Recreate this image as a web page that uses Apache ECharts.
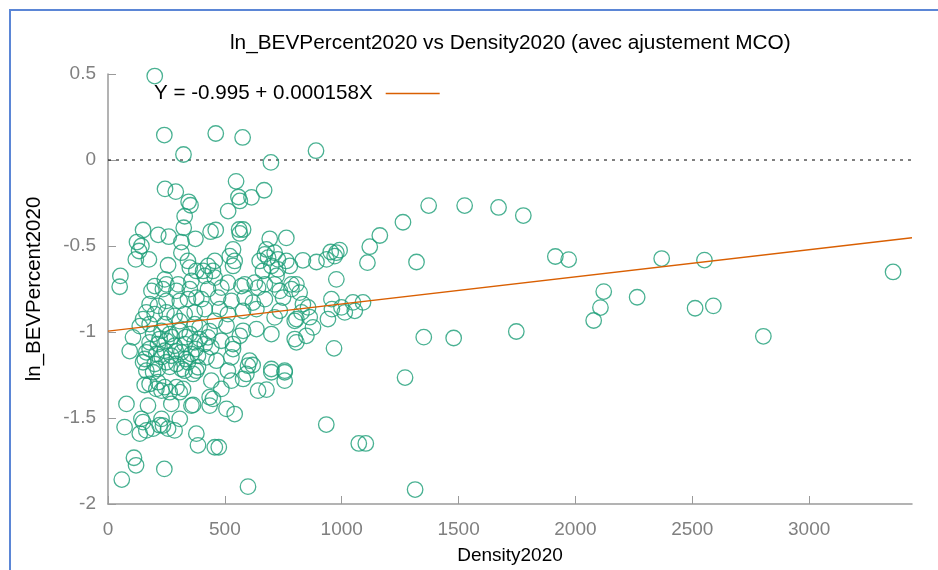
<!DOCTYPE html>
<html><head><meta charset="utf-8">
<script src="https://cdn.jsdelivr.net/npm/echarts@6/dist/echarts.min.js"></script>
<style>html,body{margin:0;padding:0;background:#fff}#c{width:938px;height:570px}</style>
</head><body><div id="c"></div>
<script>
const chartTitle = 'ln_BEVPercent2020 vs Density2020 (avec ajustement MCO)';
const xName = 'Density2020';
const yName = 'ln_BEVPercent2020';
const fitLabel = 'Y = -0.995 + 0.000158X';

const density = [
200,241,461,576,323,697,890,548,244,290,668,558,564,614,345,353,514,328,324,150,
215,260,374,314,439,461,561,578,564,692,763,124,143,133,119,175,314,342,257,350,
53,50,200,243,250,300,357,378,535,521,542,678,671,685,713,727,699,763,778,649,
457,428,407,449,414,457,535,663,721,727,513,585,628,671,713,785,1262,1163,1120,1110,
1320,834,892,935,953,977,991,970,977,806,
186,235,293,350,178,214,250,307,342,378,164,200,250,285,328,371,107,93,193,229,
264,307,350,178,214,250,285,328,371,164,207,243,271,314,357,150,200,250,293,342,
150,136,
428,485,571,642,735,785,400,471,528,585,620,671,749,414,478,513,578,635,713,735,
799,392,457,507,578,635,699,799,392,428,485,535,442,385,421,464,528,606,599,699,
756,385,513,
820,834,856,806,956,999,1013,1048,1056,1091,941,877,849,967,1351,958,863,828,806,
79,71,111,120,171,143,229,307,193,221,257,285,136,164,357,271,307,264,229,178,
214,243,293,321,164,193,328,364,378,442,485,528,578,592,435,435,449,507,542,378,
385,457,474,642,699,756,756,678,1271,934,1073,1103,1314,599,59,241,364,157,207,150,
235,619,564,535,
221,273,332,178,230,290,332,375,157,213,264,315,414,435,243,307,371,178,
1372,1526,1671,1777,1914,1971,2369,2552,3359,2121,2107,2078,2264,2512,2590,2804,1747,1479
];
const lnBev = [
0.488,0.145,0.154,0.131,0.032,-0.014,0.054,-0.124,-0.168,-0.184,-0.176,-0.215,-0.238,-0.217,-0.243,-0.263,-0.297,-0.327,-0.394,-0.407,
-0.435,-0.446,-0.458,-0.477,-0.417,-0.407,-0.404,-0.404,-0.427,-0.458,-0.453,-0.477,-0.500,-0.529,-0.578,-0.578,-0.539,-0.587,-0.612,-0.626,
-0.674,-0.737,-0.733,-0.694,-0.723,-0.723,-0.703,-0.645,-0.520,-0.559,-0.587,-0.520,-0.549,-0.568,-0.539,-0.578,-0.616,-0.587,-0.616,-0.587,
-0.587,-0.616,-0.645,-0.645,-0.674,-0.684,-0.616,-0.645,-0.674,-0.636,-0.713,-0.723,-0.713,-0.723,-0.723,-0.723,-0.362,-0.439,-0.504,-0.597,
-0.593,-0.583,-0.593,-0.578,-0.535,-0.539,-0.524,-0.559,-0.694,-0.723,
-0.761,-0.751,-0.761,-0.751,-0.838,-0.848,-0.819,-0.819,-0.809,-0.800,-0.886,-0.896,-0.886,-0.906,-0.896,-0.886,-1.031,-1.111,-1.012,-0.993,
-1.012,-0.993,-1.012,-1.060,-1.070,-1.051,-1.080,-1.070,-1.060,-1.118,-1.128,-1.109,-1.138,-1.118,-1.128,-1.176,-1.186,-1.176,-1.186,-1.176,
-0.925,-0.966,
-0.751,-0.742,-0.733,-0.742,-0.761,-0.751,-0.809,-0.800,-0.819,-0.800,-0.829,-0.809,-0.800,-0.867,-0.867,-0.896,-0.877,-0.867,-0.915,-0.877,
-0.935,-0.973,-0.935,-0.964,-0.993,-0.983,-1.012,-1.041,-1.041,-1.031,-1.051,-1.099,-1.089,-1.138,-1.147,-1.167,-1.147,-1.167,-1.196,-1.215,
-1.225,-1.205,-1.225,
-0.771,-0.838,-0.857,-0.925,-0.809,-0.857,-0.886,-0.828,-0.877,-0.828,-0.925,-0.973,-1.022,-1.095,-1.030,-0.867,-0.914,-0.886,-1.060,
-1.418,-1.553,-1.731,-1.775,-1.428,-1.505,-1.505,-1.505,-1.562,-1.542,-1.562,-1.572,-1.591,-1.572,-1.428,-1.418,-1.350,-1.350,-1.341,-1.302,
-1.292,-1.321,-1.321,-1.331,-1.225,-1.234,-1.225,-1.244,-1.225,-1.283,-1.331,-1.283,-1.273,-1.244,-1.379,-1.428,-1.389,-1.447,-1.477,-1.591,
-1.659,-1.670,-1.670,-1.341,-1.234,-1.234,-1.283,-1.335,-1.265,-1.538,-1.648,-1.648,-1.916,-1.899,-1.858,-1.796,-1.424,-1.308,-1.331,-1.524,
-1.544,-1.192,-1.022,-1.070,
-1.041,-1.030,-1.030,-1.099,-1.145,-1.111,-1.157,-1.099,-1.157,-1.215,-1.203,-1.215,-1.070,-0.995,-0.954,-0.937,-0.954,-0.954,
-0.265,-0.265,-0.276,-0.323,-0.561,-0.579,-0.573,-0.582,-0.651,-0.765,-0.858,-0.933,-0.798,-0.862,-0.848,-1.025,-0.997,-1.035
];
const xTicks = [0, 500, 1000, 1500, 2000, 2500, 3000];
const fitX = [0, 3440];
const fitY = [-0.995, -0.452];
const zeroX = [0, 3440];
const zeroY = [0, 0];

const FONT = '"Liberation Sans", Arial, Helvetica, sans-serif';
const points = density.map((d, i) => [d, lnBev[i]]);

const chart = echarts.init(document.getElementById('c'), null, {renderer: 'canvas'});
chart.setOption({
  animation: false,
  backgroundColor: '#ffffff',
  textStyle: {fontFamily: FONT},
  title: {
    text: chartTitle, left: 230, top: 33, padding: 0,
    textStyle: {fontSize: 20.8, fontWeight: 'normal', color: '#000', fontFamily: FONT}
  },
  legend: {
    data: [{name: fitLabel, icon: 'rect'}], left: 154, top: 83, padding: 0, align: 'right',
    itemWidth: 54, itemHeight: 1.5,
    itemStyle: {color: '#d95f02', borderWidth: 0},
    textStyle: {fontSize: 20.6, color: '#000', fontFamily: FONT, padding: [0, 8, 0, 0]}
  },
  grid: {left: 108, right: 26, top: 74, bottom: 64, containLabel: false},
  xAxis: {
    type: 'value', min: 0, max: 3440,
    name: xName, nameLocation: 'middle', nameGap: 42,
    nameTextStyle: {fontSize: 19, color: '#000', fontFamily: FONT},
    axisLine: {show: true, onZero: false, lineStyle: {color: '#9a9a9a', width: 1.5}},
    axisTick: {show: true, inside: true, length: 8, customValues: xTicks, lineStyle: {color: '#9a9a9a', width: 1}},
    axisLabel: {customValues: xTicks, margin: 16, fontSize: 19, color: '#808080', fontFamily: FONT,
      formatter: v => String(v)},
    splitLine: {show: false}
  },
  yAxis: {
    type: 'value', min: -2, max: 0.5, interval: 0.5,
    name: yName, nameLocation: 'middle', nameGap: 63,
    nameTextStyle: {fontSize: 20.5, color: '#000', fontFamily: FONT},
    axisLine: {show: true, onZero: false, lineStyle: {color: '#9a9a9a', width: 1.5}},
    axisTick: {show: true, inside: true, length: 8, lineStyle: {color: '#9a9a9a', width: 1}},
    axisLabel: {margin: 12, fontSize: 19, color: '#808080', fontFamily: FONT, formatter: v => String(v)},
    splitLine: {show: false}
  },
  series: [
    {
      name: 'zero', type: 'line', data: zeroX.map((x, i) => [x, zeroY[i]]),
      showSymbol: false, symbol: 'none', silent: true,
      lineStyle: {color: '#000', width: 1, type: [3, 5]}, z: 1
    },
    {
      name: 'obs', type: 'scatter', data: points,
      symbol: 'circle', symbolSize: 15.5,
      itemStyle: {color: 'rgba(0,0,0,0)', borderColor: '#1b9e77', borderWidth: 1.3},
      z: 2
    },
    {
      name: fitLabel, type: 'line', data: fitX.map((x, i) => [x, fitY[i]]),
      showSymbol: false, symbol: 'none',
      lineStyle: {color: '#d95f02', width: 1.3}, itemStyle: {color: '#d95f02'}, z: 3
    }
  ],
  graphic: [
    {type: 'polyline', shape: {points: [[10, 570], [10, 10], [938, 10]]},
     style: {stroke: '#5b86d6', lineWidth: 2, fill: null}, silent: true}
  ]
});
</script></body></html>
